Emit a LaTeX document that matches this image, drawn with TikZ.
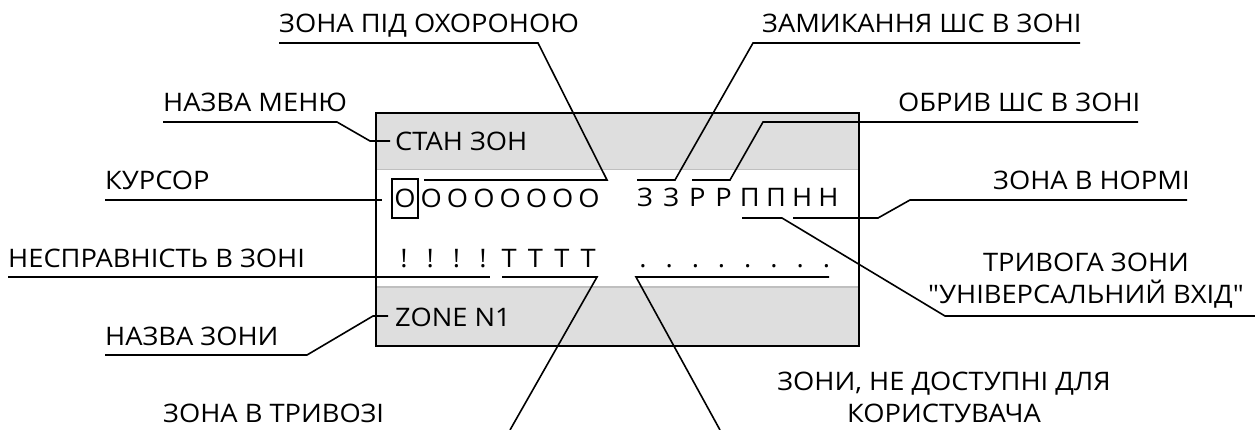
\documentclass[tikz,border=0pt]{standalone}
\usepackage{fontspec}
\setmainfont{Open Sans}[FakeStretch=1.07, Ligatures=TeXOff]
\begin{document}
\begin{tikzpicture}[x=1pt,y=-1pt,
  lbl/.style={font=\fontsize{25.5}{30}\selectfont, inner sep=0pt, anchor=base west},
  lblc/.style={font=\fontsize{25.5}{30}\selectfont, inner sep=0pt, anchor=base},
  chr/.style={font=\fontsize{25.5}{30}\selectfont, inner sep=0pt, anchor=base},
  ln/.style={line width=1.6pt, black, line join=miter},
  band/.style={fill=black!13, draw=none}]
\useasboundingbox (0,0) rectangle (1255,430);
% display
\fill[band] (375,112) rectangle (858,170);
\fill[band] (375,287) rectangle (858,345);
\draw[black!25, line width=1pt] (375,170) -- (858,170) (375,287) -- (858,287);
\node[draw, line width=1.6pt, minimum width=483pt, minimum height=233pt, anchor=north west, inner sep=0pt] (disp) at (375,112) {};
% display texts
\node[lbl] (menu) at (395,151) {СТАН ЗОН};
\node[lbl] (zname) at (395,326) {ZONE N1};
\foreach \c [count=\i from 0] in {О,О,О,О,О,О,О,О}
  \node[chr] (o\i) at ({405+26.3*\i},208) {\c};
\node[draw, line width=1.3pt, inner sep=0pt, minimum width=26pt, minimum height=39pt] (cur) at (405,198.5) {};
\foreach \c [count=\i from 0] in {З,З,Р,Р,П,П,Н,Н}
  \node[chr] (s\i) at ({645+26.2*\i},207) {\c};
\foreach \c [count=\i from 0] in {!,!,!,!,Т,Т,Т,Т}
  \node[chr] (f\i) at ({404+26.3*\i},268) {\c};
\foreach \i in {0,...,7}
  \node[chr] (d\i) at ({643+26.2*\i},268) {.};
% labels
\node[lbl] (l1) at (279,33) {ЗОНА ПІД ОХОРОНОЮ};
\node[lbl] (l2) at (762,33) {ЗАМИКАННЯ ШС В ЗОНІ};
\node[lbl] (l3) at (163,112) {НАЗВА МЕНЮ};
\node[lbl] (l4) at (898,112) {ОБРИВ ШС В ЗОНІ};
\node[lbl] (l5) at (105,190) {КУРСОР};
\node[lbl] (l6) at (993,190) {ЗОНА В НОРМІ};
\node[lbl] (l7) at (8,268) {НЕСПРАВНІСТЬ В ЗОНІ};
\node[lblc] (l8a) at (1086,272) {ТРИВОГА ЗОНИ};
\node[lblc] (l8b) at (1086,303) {"УНІВЕРСАЛЬНИЙ ВХІД"};
\node[lbl] (l9) at (105,345) {НАЗВА ЗОНИ};
\node[lblc] (l10a) at (944,390) {ЗОНИ, НЕ ДОСТУПНІ ДЛЯ};
\node[lblc] (l10b) at (944,422) {КОРИСТУВАЧА};
\node[lbl] (l11) at (163,422) {ЗОНА В ТРИВОЗІ};
% connector ends
\coordinate (e11) at (510,430);
\coordinate (e10) at (720,430);
% connectors
\draw[ln] (279,43) -- (538,43) -- (607,180) -- (424,180);
\draw[ln] (1080,43) -- (753,43) -- (675,180) -- (637,180);
\draw[ln] (1138,122) -- (763,122) -- (730,180) -- (692,180);
\draw[ln] (1187,200) -- (910,200) -- (878,218) -- (793,218);
\draw[ln] (1255,316) -- (945,316) -- (782,218) -- (742,218);
\draw[ln] (163,122) -- (337,122) -- (370,141) -- (390,141);
\draw[ln] (105,200) -- (382,200);
\draw[ln] (8,277) -- (490,277);
\draw[ln] (502,277) -- (597,277) -- (e11);
\draw[ln] (829,277) -- (636,277) -- (e10);
\draw[ln] (105,355) -- (307,355) -- (373,316) -- (388,316);
\end{tikzpicture}
\end{document}
